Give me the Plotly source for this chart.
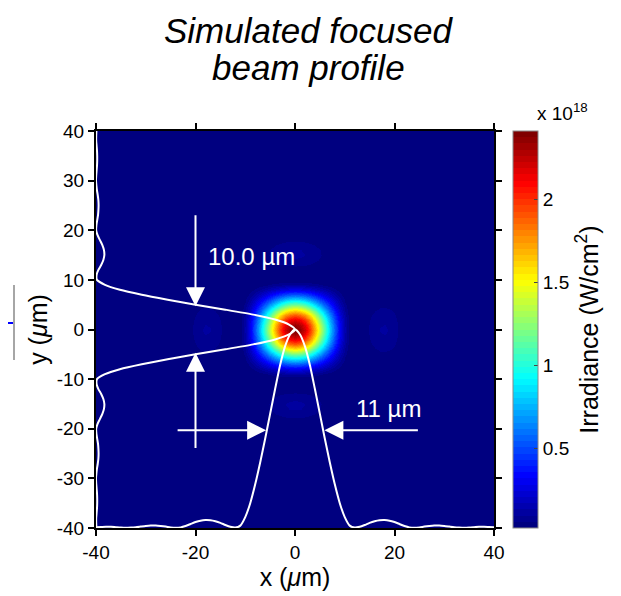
import plotly.graph_objects as go

# ---- data ----
x_um = list(range(-40, 41))          # x sample positions (µm)
y_um = list(range(-40, 41))          # y sample positions (µm)

# normalized horizontal profile I(x)/Imax, x = -40..40
x_profile = [
    0.004, 0.005, 0.006, 0.006, 0.004, 0.002, 0.001, 0.002, 0.004, 0.007,
    0.010, 0.012, 0.012, 0.010, 0.007, 0.003, 0.001, 0.003, 0.010, 0.020,
    0.030, 0.037, 0.040, 0.039, 0.034, 0.026, 0.015, 0.006, 0.002, 0.012,
    0.055, 0.125, 0.220, 0.330, 0.450, 0.575, 0.700, 0.820, 0.915, 0.975,
    1.000,
    0.975, 0.915, 0.820, 0.700, 0.575, 0.450, 0.330, 0.220, 0.125, 0.055,
    0.012, 0.002, 0.006, 0.015, 0.026, 0.034, 0.039, 0.040, 0.037, 0.030,
    0.020, 0.010, 0.003, 0.001, 0.003, 0.007, 0.010, 0.012, 0.012, 0.010,
    0.007, 0.004, 0.002, 0.001, 0.002, 0.004, 0.006, 0.006, 0.005, 0.004,
]

# normalized vertical profile I(y)/Imax, y = -40..40
y_profile = [
    0.002, 0.001, 0.001, 0.003, 0.005, 0.006, 0.006, 0.005, 0.003, 0.001,
    0.000, 0.002, 0.005, 0.009, 0.012, 0.013, 0.012, 0.010, 0.006, 0.002,
    0.001, 0.008, 0.020, 0.032, 0.040, 0.042, 0.037, 0.026, 0.012, 0.003,
    0.005, 0.045, 0.120, 0.230, 0.360, 0.500, 0.650, 0.790, 0.900, 0.970,
    1.000,
    0.970, 0.900, 0.790, 0.650, 0.500, 0.360, 0.230, 0.120, 0.045, 0.005,
    0.003, 0.012, 0.026, 0.037, 0.042, 0.040, 0.032, 0.020, 0.008, 0.001,
    0.002, 0.006, 0.010, 0.012, 0.013, 0.012, 0.009, 0.005, 0.002, 0.000,
    0.001, 0.003, 0.005, 0.006, 0.006, 0.005, 0.003, 0.001, 0.001, 0.002,
]

peak_irradiance = 2.41      # ×10^18 W/cm^2
min_irradiance = 0.018      # ×10^18 W/cm^2
cbar_ticks = [0.5, 1, 1.5, 2]
cbar_ticktext = ["0.5", "1", "1.5", "2"]
x_ticks = [-40, -20, 0, 20, 40]
y_ticks = [-40, -30, -20, -10, 0, 10, 20, 30, 40]

title_lines = ["Simulated focused", "beam profile"]
fwhm_y_label = "10.0 µm"
fwhm_x_label = "11 µm"

# ---- derived field ----
z = [[peak_irradiance * py * px for px in x_profile] for py in y_profile]

# MATLAB jet(64) colormap, discrete
def jet(i, n=64):
    t = i / (n - 1)
    def f(a):
        return max(0.0, min(1.0, a))
    r = f(min(4 * t - 1.5, -4 * t + 4.5))
    g = f(min(4 * t - 0.5, -4 * t + 3.5))
    b = f(min(4 * t + 0.5, -4 * t + 2.5))
    return f"rgb({round(r*255)},{round(g*255)},{round(b*255)})"

n = 64
cs = []
for i in range(n):
    c = jet(i, n)
    cs.append([i / n, c])
    cs.append([(i + 1) / n, c])

FONT = "Liberation Sans, Arial, sans-serif"

# page body has an 8px margin: figure pixel = reference pixel - 8
def px_x(ref_x):
    return (ref_x - 96) / 398

def px_y(ref_y):
    return (528 - ref_y) / 397

fig = go.Figure()
fig.add_trace(go.Heatmap(
    x=x_um, y=y_um, z=z, zmin=min_irradiance, zmax=peak_irradiance,
    colorscale=cs, zsmooth="best", showscale=True,
    colorbar=dict(
        x=px_x(513), xanchor="left", xpad=0, y=0.5, yanchor="middle", ypad=0,
        len=1.0, lenmode="fraction", thickness=25, thicknessmode="pixels",
        outlinecolor="#888888", outlinewidth=1,
        tickvals=cbar_ticks, ticktext=cbar_ticktext,
        ticks="inside", ticklen=4, tickcolor="#444444",
        tickfont=dict(family=FONT, size=19, color="black"),
        title=dict(text="Irradiance (W/cm<sup>2</sup>)", side="right",
                   font=dict(family=FONT, size=25, color="black")),
    ),
    hoverinfo="skip",
))

# horizontal profile drawn along the bottom
fig.add_trace(go.Scatter(
    x=x_um, y=[-40 + 40 * v for v in x_profile], mode="lines",
    line=dict(color="white", width=2, shape="spline", smoothing=0.6),
    hoverinfo="skip", showlegend=False,
))
# vertical profile drawn along the left
fig.add_trace(go.Scatter(
    x=[-40 + 40 * v for v in y_profile], y=y_um, mode="lines",
    line=dict(color="white", width=2, shape="spline", smoothing=0.6),
    hoverinfo="skip", showlegend=False,
))

arrow = dict(showarrow=True, arrowhead=2, arrowsize=1.9, arrowwidth=2,
             arrowcolor="white", axref="x", ayref="y", xref="x", yref="y", text="")
annotations = [
    dict(x=-20, y=4.7, ax=-20, ay=23.3, **arrow),
    dict(x=-20, y=-4.7, ax=-20, ay=-24.2, **arrow),
    dict(x=-5.8, y=-20.3, ax=-23.9, ay=-20.3, **arrow),
    dict(x=5.9, y=-20.3, ax=25.0, ay=-20.3, **arrow),
    dict(x=-17.9, y=14.8, xref="x", yref="y", text=fwhm_y_label, showarrow=False,
         xanchor="left", yanchor="middle", font=dict(family=FONT, size=24, color="white")),
    dict(x=11.8, y=-16.0, xref="x", yref="y", text=fwhm_x_label, showarrow=False,
         xanchor="left", yanchor="middle", font=dict(family=FONT, size=24, color="white")),
    dict(x=px_x(535), y=px_y(112), xref="paper", yref="paper",
         text="x 10<sup>18</sup>", showarrow=False, xanchor="left", yanchor="middle",
         font=dict(family=FONT, size=19, color="black")),
    dict(x=px_x(308), y=px_y(30), xref="paper", yref="paper",
         text="<i>" + title_lines[0] + "</i>", showarrow=False,
         xanchor="center", yanchor="middle",
         font=dict(family=FONT, size=35, color="black")),
    dict(x=px_x(308), y=px_y(68), xref="paper", yref="paper",
         text="<i>" + title_lines[1] + "</i>", showarrow=False,
         xanchor="center", yanchor="middle",
         font=dict(family=FONT, size=35, color="black")),
]

shapes = [
    dict(type="line", xref="paper", yref="paper",
         x0=px_x(8), x1=px_x(13), y0=px_y(323), y1=px_y(323),
         line=dict(color="#0000ff", width=2)),
    dict(type="line", xref="paper", yref="paper",
         x0=px_x(14), x1=px_x(14), y0=px_y(285), y1=px_y(360),
         line=dict(color="#888888", width=1.5)),
]

axis_common = dict(
    showgrid=False, zeroline=False, showline=True, linecolor="black", linewidth=2,
    mirror="allticks", ticks="outside", ticklen=6, tickwidth=1.5, tickcolor="black",
    tickfont=dict(family=FONT, size=19, color="black"),
)

fig.update_layout(
    width=613, height=588,
    margin=dict(l=88, r=127, t=123, b=68),
    paper_bgcolor="white", plot_bgcolor="white",
    showlegend=False,
    xaxis=dict(range=[-40, 40], tickvals=x_ticks, ticktext=[str(v) for v in x_ticks],
               title=dict(text="x (<i>μ</i>m)", font=dict(family=FONT, size=25, color="black"),
                          standoff=2),
               **axis_common),
    yaxis=dict(range=[-40, 40], tickvals=y_ticks, ticktext=[str(v) for v in y_ticks],
               title=dict(text="y (<i>μ</i>m)", font=dict(family=FONT, size=25, color="black"),
                          standoff=2),
               **axis_common),
    annotations=annotations,
    shapes=shapes,
)

fig.write_html("out.html")
